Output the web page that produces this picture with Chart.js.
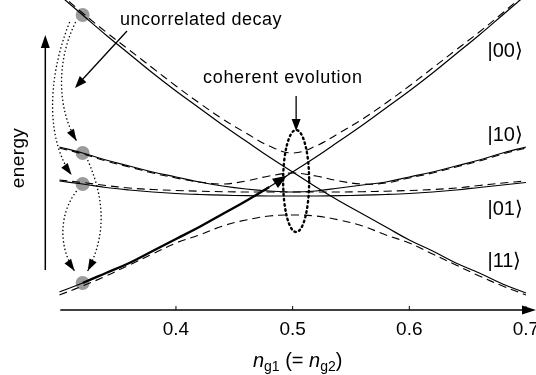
<!DOCTYPE html>
<html>
<head>
<meta charset="utf-8">
<script src="https://cdn.jsdelivr.net/npm/chart.js@4.4.1/dist/chart.umd.min.js"></script>
<style>
  html, body { margin: 0; padding: 0; background: #fff; }
  canvas { display: block; }
</style>
</head>
<body>
<canvas id="chart" width="536" height="375"></canvas>
<script>
/* ===== DATA (energy in arbitrary units) ===== */
const ng = [0.30, 0.32, 0.34, 0.36, 0.38, 0.40, 0.42, 0.44, 0.46, 0.48, 0.50,
            0.52, 0.54, 0.56, 0.58, 0.60, 0.62, 0.64, 0.66, 0.68, 0.70];

// uncoupled charge states (solid)
const e00 = [18, 27, 37, 47, 59, 71, 83, 96, 109, 123, 138, 153, 169, 185, 202, 219, 237, 256, 275, 295, 315];
const e11 = [315, 295, 275, 256, 237, 219, 202, 185, 169, 153, 138, 123, 109, 96, 83, 70, 59, 47, 37, 26, 17];
const e10 = [163, 157, 150, 144, 138, 133, 128, 124, 121, 119, 118, 119, 122, 125, 128, 133, 138, 144, 150, 157, 163];
const e01 = [129, 126, 122.5, 120, 118, 116.5, 115.5, 114.8, 114.3, 114, 114, 114, 114.3, 114.8, 115.5, 116.5, 118, 120, 122.5, 125, 127.5];

// coupled eigenstates (dashed)
const band1 = [317, 297, 278, 260, 242, 224, 207, 191, 177, 164, 157, 164, 177, 191, 207, 224, 242, 260, 278, 297, 317];
const band2 = [162, 156, 149, 143, 137, 132, 128, 126, 129, 134, 137, 134, 129, 126, 127, 132, 137, 143, 149, 156, 162];
const band3 = [130, 127.5, 124.5, 122, 120.5, 119.5, 118.8, 118.3, 118, 118, 118, 118, 118, 118.3, 118.8, 119.5, 120.5, 122, 124.5, 127, 129];
const band4 = [15, 24, 34, 45, 56, 67, 75, 84, 90, 94, 95, 94, 90, 84, 75, 67, 56, 45, 34, 24, 15];

const xTicks = [0.4, 0.5, 0.6, 0.7];
const stateLabels = ["|00\u27E9", "|10\u27E9", "|01\u27E9", "|11\u27E9"];

const FONT = "Liberation Sans, Arial, Helvetica, sans-serif";

function pts(arr) {
  return ng.map((x, i) => ({ x: x, y: arr[i] }));
}

function solid(arr, extra) {
  return Object.assign({
    data: pts(arr), borderColor: "#000", borderWidth: 1.2,
    pointRadius: 0, tension: 0.4, fill: false
  }, extra || {});
}

function dashed(arr) {
  return solid(arr, { borderDash: [8, 5], borderWidth: 1.1 });
}

/* ===== DRAW HELPERS ===== */
function arrowHead(ctx, fx, fy, tx, ty, len, half) {
  const a = Math.atan2(ty - fy, tx - fx);
  ctx.save();
  ctx.translate(tx, ty);
  ctx.rotate(a);
  ctx.beginPath();
  ctx.moveTo(0, 0);
  ctx.lineTo(-len, -half);
  ctx.lineTo(-len, half);
  ctx.closePath();
  ctx.fillStyle = "#000";
  ctx.fill();
  ctx.restore();
}

function dottedArc(ctx, p) {
  // p = [x0,y0, c1x,c1y, c2x,c2y, tipx,tipy]
  ctx.save();
  ctx.setLineDash([1.4, 2.4]);
  ctx.lineWidth = 1.3;
  ctx.strokeStyle = "#000";
  ctx.beginPath();
  ctx.moveTo(p[0], p[1]);
  ctx.bezierCurveTo(p[2], p[3], p[4], p[5], p[6], p[7]);
  ctx.stroke();
  ctx.restore();
  arrowHead(ctx, p[4], p[5], p[6], p[7], 12, 4);
}

function label(ctx, txt, x, y, size, spacing) {
  ctx.font = size + "px " + FONT;
  ctx.letterSpacing = (spacing || 0) + "px";
  ctx.fillText(txt, x, y);
  ctx.letterSpacing = "0px";
}

/* ===== ANNOTATIONS ===== */
const annotate = {
  id: "annotate",
  afterDatasetsDraw(chart) {
    const ctx = chart.ctx;
    const xs = chart.scales.x;
    const area = chart.chartArea;
    ctx.save();
    ctx.fillStyle = "#000";
    ctx.strokeStyle = "#000";

    // x axis with arrow
    const ax = area.bottom;
    ctx.lineWidth = 1.6;
    ctx.beginPath();
    ctx.moveTo(area.left + 1, ax);
    ctx.lineTo(area.right - 12, ax);
    ctx.stroke();
    arrowHead(ctx, area.left, ax, area.right, ax, 14, 4.5);

    // inward tick marks + labels
    ctx.lineWidth = 1;
    ctx.textAlign = "center";
    xTicks.forEach(v => {
      const px = xs.getPixelForValue(v);
      ctx.beginPath();
      ctx.moveTo(px, ax);
      ctx.lineTo(px, ax - 4);
      ctx.stroke();
      label(ctx, v.toFixed(1), px, ax + 25, 19);
    });

    // x title: n_g1 (= n_g2)
    const parts = [
      ["n", "italic 20px "], ["g1", "14px "], [" (= ", "20px "],
      ["n", "italic 20px "], ["g2", "14px "], [")", "20px "]
    ];
    let total = 0;
    parts.forEach(p => { ctx.font = p[1] + FONT; total += ctx.measureText(p[0]).width; });
    let tx = (area.left + area.right) / 2 - total / 2;
    ctx.textAlign = "left";
    parts.forEach(p => {
      ctx.font = p[1] + FONT;
      const sub = p[1].startsWith("14");
      ctx.fillText(p[0], tx, ax + 57 + (sub ? 4 : 0));
      tx += ctx.measureText(p[0]).width;
    });

    // energy arrow + label
    const ex = area.left - 14;
    ctx.lineWidth = 1.5;
    ctx.beginPath();
    ctx.moveTo(ex, ax - 40);
    ctx.lineTo(ex, 46);
    ctx.stroke();
    arrowHead(ctx, ex, 100, ex, 35, 13, 4.5);
    ctx.save();
    ctx.translate(area.left - 35, 158);
    ctx.rotate(-Math.PI / 2);
    ctx.textAlign = "center";
    label(ctx, "energy", 0, 0, 19, 0.4);
    ctx.restore();

    // state labels
    ctx.textAlign = "left";
    const lx = xs.getPixelForValue(0.667);
    label(ctx, stateLabels[0], lx, 57, 20);
    label(ctx, stateLabels[1], lx, 141, 20);
    label(ctx, stateLabels[2], lx, 215, 20);
    label(ctx, stateLabels[3], lx, 267, 20);

    // text annotations
    label(ctx, "uncorrelated decay", 120, 25, 18, 0.5);
    label(ctx, "coherent evolution", 203, 83, 18, 0.7);

    // uncorrelated decay arrow
    ctx.lineWidth = 1.3;
    ctx.beginPath();
    ctx.moveTo(127, 31);
    ctx.lineTo(82, 80);
    ctx.stroke();
    arrowHead(ctx, 127, 31, 75, 88, 12, 4.5);

    // coherent evolution arrow + dotted ellipse
    const cx = xs.getPixelForValue(0.503);
    ctx.beginPath();
    ctx.moveTo(cx, 96);
    ctx.lineTo(cx, 120);
    ctx.stroke();
    arrowHead(ctx, cx, 96, cx, 131, 12, 4.5);

    ctx.save();
    ctx.setLineDash([1.5, 3.5]);
    ctx.lineCap = "round";
    ctx.lineWidth = 2.4;
    ctx.beginPath();
    ctx.ellipse(cx, 181, 13, 51, 0, 0, Math.PI * 2);
    ctx.stroke();
    ctx.restore();

    // thick arrow tip on |00> line
    const m = chart.getDatasetMeta(0).data;
    const a = m[9], b = m[10];
    const tipX = a.x + 0.75 * (b.x - a.x), tipY = a.y + 0.75 * (b.y - a.y);
    arrowHead(ctx, a.x, a.y, tipX, tipY, 14, 5.5);

    // dotted decay arcs between the grey dots
    const d = chart.getDatasetMeta(8).data;
    const p0 = d[0], p1 = d[1], p2 = d[2], p3 = d[3];
    dottedArc(ctx, [p0.x - 7, p0.y + 7, p0.x - 26, p0.y + 45, p1.x - 26, p1.y - 45, p1.x - 6, p1.y - 12]);
    dottedArc(ctx, [p0.x - 13, p0.y + 7, p0.x - 38, p0.y + 70, p2.x - 34, p2.y - 40, p2.x - 11, p2.y - 9]);
    dottedArc(ctx, [p1.x + 5, p1.y + 7, p1.x + 24, p1.y + 50, p3.x + 22, p3.y - 45, p3.x + 5, p3.y - 12]);
    dottedArc(ctx, [p2.x - 6, p2.y + 7, p2.x - 24, p2.y + 30, p3.x - 24, p3.y - 35, p3.x - 8, p3.y - 12]);

    ctx.restore();
  }
};

/* ===== CHART ===== */
new Chart(document.getElementById("chart"), {
  type: "line",
  data: {
    datasets: [
      solid(e00, {
        segment: {
          borderWidth: c => (c.p0.parsed.x >= 0.319 && c.p1.parsed.x <= 0.481) ? 2.4 : 1.2
        }
      }),
      solid(e11),
      solid(e10),
      solid(e01),
      dashed(band1),
      dashed(band2),
      dashed(band3),
      dashed(band4),
      {
        type: "scatter",
        data: [
          { x: ng[1], y: e11[1] },
          { x: ng[1], y: e10[1] },
          { x: ng[1], y: e01[1] },
          { x: ng[1], y: e00[1] }
        ],
        pointRadius: 7,
        pointBackgroundColor: "#9b9b9b",
        pointBorderWidth: 0,
        showLine: false
      }
    ]
  },
  options: {
    responsive: false,
    animation: false,
    devicePixelRatio: 1,
    layout: { autoPadding: false, padding: { left: 59.3, right: 0, top: 0, bottom: 65 } },
    plugins: { legend: { display: false }, tooltip: { enabled: false } },
    scales: {
      x: { type: "linear", min: 0.30, max: 0.7086, display: false },
      y: { type: "linear", min: 0, max: 310, display: false }
    }
  },
  plugins: [annotate]
});
</script>
</body>
</html>
